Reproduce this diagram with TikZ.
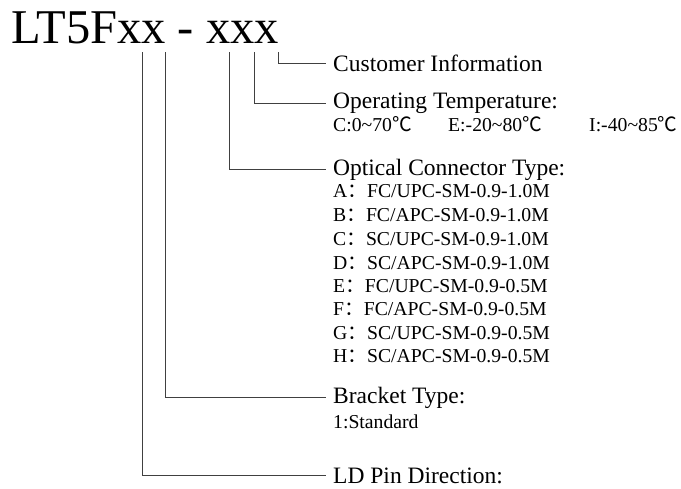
\documentclass[tikz,border=0pt]{standalone}
\usepackage{fontspec}
\setmainfont{Liberation Serif}
\newfontfamily\cjk{Noto Sans CJK SC}
\begin{document}
\begin{tikzpicture}[x=1pt,y=-1pt,
  lead/.style={draw=black!75,line width=0.9pt},
  big/.style={inner sep=0pt,anchor=base west,font=\fontsize{23.5}{26}\selectfont},
  small/.style={inner sep=0pt,anchor=base west,font=\fontsize{19.7}{22}\selectfont}]
\useasboundingbox (0,0) rectangle (681,488);
\node[inner sep=0pt,anchor=base west,font=\fontsize{48.5}{50}\selectfont] (title) at (11,43.5) {LT5Fxx - xxx};
\coordinate (t1) at (142.7,52);
\coordinate (t2) at (165.7,52);
\coordinate (t3) at (229,52);
\coordinate (t4) at (254.3,52);
\coordinate (t5) at (278.3,52);
% labels
\node[big] (cust) at (333,71.7) {Customer Information};
\node[big] (temp) at (333,108.3) {Operating Temperature:};
\node[small] (tc) at (333,131.7) {C:0\textasciitilde70{\cjk ℃}};
\node[small] (te) at (448,131.7) {E:-20\textasciitilde80{\cjk ℃}};
\node[small] (ti) at (589,131.7) {I:-40\textasciitilde85{\cjk ℃}};
\node[big] (conn) at (333,175) {Optical Connector Type:};
\node[small] (ca) at (333,197) {A{\cjk ：}FC/UPC-SM-0.9-1.0M};
\node[small] (cb) at (333,221.5) {B{\cjk ：}FC/APC-SM-0.9-1.0M};
\node[small] (cc) at (333,245.5) {C{\cjk ：}SC/UPC-SM-0.9-1.0M};
\node[small] (cd) at (333,269.3) {D{\cjk ：}SC/APC-SM-0.9-1.0M};
\node[small] (ce) at (333,292) {E{\cjk ：}FC/UPC-SM-0.9-0.5M};
\node[small] (cf) at (333,315.7) {F{\cjk ：}FC/APC-SM-0.9-0.5M};
\node[small] (cg) at (333,339.3) {G{\cjk ：}SC/UPC-SM-0.9-0.5M};
\node[small] (ch) at (333,362.3) {H{\cjk ：}SC/APC-SM-0.9-0.5M};
\node[big] (brk) at (333,403.3) {Bracket Type:};
\node[small] (std) at (333,428.3) {1:Standard};
\node[big] (ld) at (333,483.5) {LD Pin Direction:};
% connectors
\draw[lead] (t1) |- ([xshift=-7pt]ld.west);
\draw[lead] (t2) |- ([xshift=-7pt]brk.west);
\draw[lead] (t3) |- ([xshift=-7pt]conn.west);
\draw[lead] (t4) |- ([xshift=-7pt]temp.west);
\draw[lead] (t5) |- ([xshift=-7pt]cust.west);
\end{tikzpicture}
\end{document}
